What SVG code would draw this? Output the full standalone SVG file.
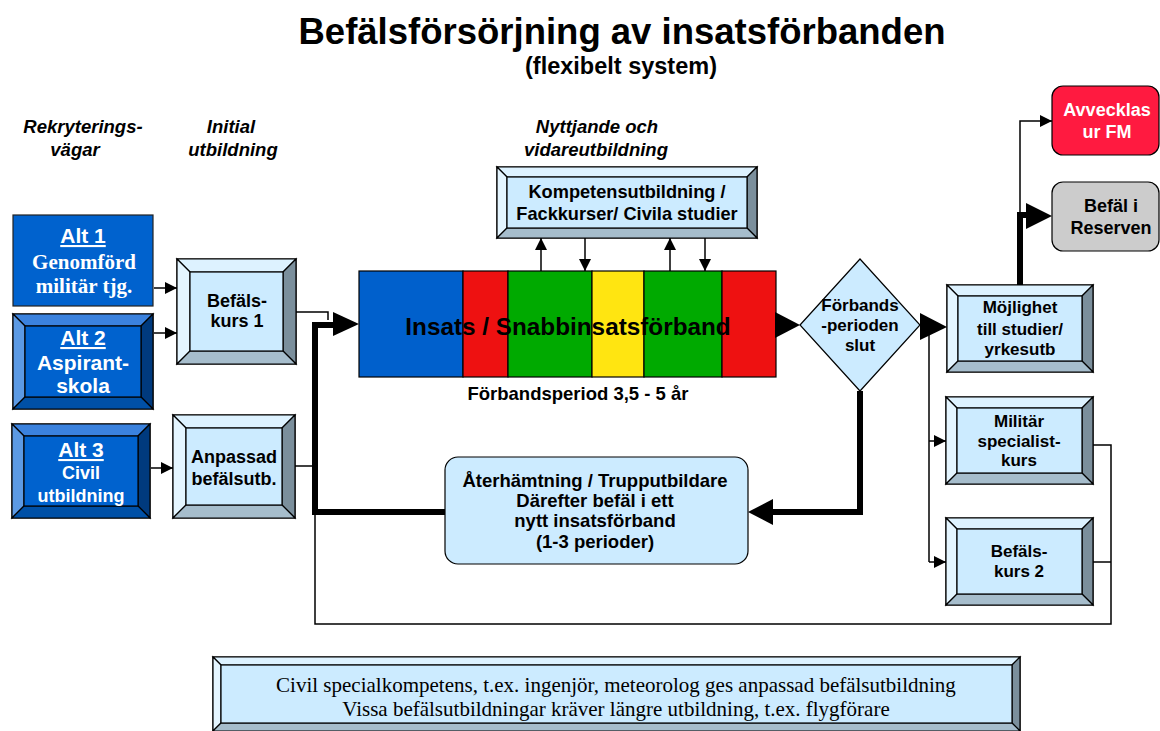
<svg xmlns="http://www.w3.org/2000/svg" width="1160" height="731" viewBox="0 0 1160 731">
<style>
.t{font-family:"Liberation Sans",Arial,sans-serif;font-weight:bold;text-anchor:middle;fill:#000}
.w{fill:#fff}
.hd{font-family:"Liberation Sans",Arial,sans-serif;font-weight:bold;font-style:italic;font-size:18.5px;text-anchor:middle}
.s{stroke:#000;stroke-width:1.2}
.lf{fill:#CCEBFF}.lt{fill:#DDF2FF}.ll{fill:#E4F5FF}.lr{fill:#7B8F9C}.lb{fill:#A6BDCC}
.bf{fill:#0062CE}.bt{fill:#3B82DE}.bl{fill:#5C9AE4}.br{fill:#003A7E}.bb{fill:#0050A6}
.thin{fill:none;stroke:#000;stroke-width:1.5}
.thick{fill:none;stroke:#000;stroke-width:6}
.serif{font-family:"Liberation Serif","Times New Roman",serif}
</style>
<defs>
<marker id="ah" viewBox="0 0 10 10" refX="10" refY="5" markerWidth="12" markerHeight="12" markerUnits="userSpaceOnUse" orient="auto"><path d="M0,0L10,5L0,10z" fill="#000"/></marker>
</defs>

<text class="t" x="622" y="44" font-size="36.5">Befälsförsörjning av insatsförbanden</text>
<text class="t" x="621" y="74" font-size="23.5">(flexibelt system)</text>

<text class="hd" x="83" y="133">Rekryterings-</text>
<text class="hd" x="75" y="156">vägar</text>
<text class="hd" x="231" y="133">Initial</text>
<text class="hd" x="233" y="156">utbildning</text>
<text class="hd" x="597" y="133">Nyttjande och</text>
<text class="hd" x="596" y="156">vidareutbildning</text>

<g id="alt1">
<rect x="13" y="215" width="140" height="91" class="bf" stroke="#222" stroke-width="1.2"/>
<text class="t w" x="83" y="243" font-size="21" text-decoration="underline">Alt 1</text>
<text class="w serif" x="84" y="269" font-size="21" font-weight="bold" text-anchor="middle">Genomförd</text>
<text class="w serif" x="84" y="293" font-size="21" font-weight="bold" text-anchor="middle">militär tjg.</text>
</g>

<g id="alt2">
<rect x="13" y="314" width="140" height="95" class="bf s"/>
<polygon points="13,314 153,314 141,326 25,326" class="bt s"/>
<polygon points="13,314 25,326 25,397 13,409" class="bl s"/>
<polygon points="153,314 153,409 141,397 141,326" class="br s"/>
<polygon points="13,409 25,397 141,397 153,409" class="bb s"/>
<rect x="25" y="326" width="116" height="71" class="bf s"/>
<text class="t w" x="83" y="345" font-size="21" text-decoration="underline">Alt 2</text>
<text class="t w" x="83" y="370" font-size="21">Aspirant-</text>
<text class="t w" x="83" y="393" font-size="21">skola</text>
</g>

<g id="alt3">
<rect x="12" y="424" width="138" height="94" class="bf s"/>
<polygon points="12,424 150,424 138,436 24,436" class="bt s"/>
<polygon points="12,424 24,436 24,506 12,518" class="bl s"/>
<polygon points="150,424 150,518 138,506 138,436" class="br s"/>
<polygon points="12,518 24,506 138,506 150,518" class="bb s"/>
<rect x="24" y="436" width="114" height="70" class="bf s"/>
<text class="t w" x="81" y="457" font-size="21" text-decoration="underline">Alt 3</text>
<text class="t w" x="81" y="479" font-size="18">Civil</text>
<text class="t w" x="81" y="502" font-size="18">utbildning</text>
</g>

<g id="befalskurs1">
<rect x="177" y="259" width="119" height="105" class="lf s"/>
<polygon points="177,259 296,259 283,272 190,272" class="lt s"/>
<polygon points="177,259 190,272 190,351 177,364" class="ll s"/>
<polygon points="296,259 296,364 283,351 283,272" class="lr s"/>
<polygon points="177,364 190,351 283,351 296,364" class="lb s"/>
<rect x="190" y="272" width="93" height="79" class="lf s"/>
<text class="t" x="237" y="307" font-size="18">Befäls-</text>
<text class="t" x="237" y="327" font-size="18">kurs 1</text>
</g>

<g id="anpassad">
<rect x="173" y="415" width="122" height="103" class="lf s"/>
<polygon points="173,415 295,415 282,428 186,428" class="lt s"/>
<polygon points="173,415 186,428 186,505 173,518" class="ll s"/>
<polygon points="295,415 295,518 282,505 282,428" class="lr s"/>
<polygon points="173,518 186,505 282,505 295,518" class="lb s"/>
<rect x="186" y="428" width="96" height="77" class="lf s"/>
<text class="t" x="234" y="463" font-size="18">Anpassad</text>
<text class="t" x="234" y="485" font-size="18">befälsutb.</text>
</g>

<g id="kompetens">
<rect x="497" y="167" width="260" height="71" class="lf s"/>
<polygon points="497,167 757,167 747,177 507,177" class="lt s"/>
<polygon points="497,167 507,177 507,228 497,238" class="ll s"/>
<polygon points="757,167 757,238 747,228 747,177" class="lr s"/>
<polygon points="497,238 507,228 747,228 757,238" class="lb s"/>
<rect x="507" y="177" width="240" height="51" class="lf s"/>
<text class="t" x="627" y="198" font-size="18.2">Kompetensutbildning /</text>
<text class="t" x="627" y="220" font-size="18.2">Fackkurser/ Civila studier</text>
</g>

<g id="insats">
<rect x="359" y="271" width="104" height="106" fill="#0060CC" class="s"/>
<rect x="463" y="271" width="45" height="106" fill="#EE1111" class="s"/>
<rect x="508" y="271" width="84" height="106" fill="#00AA00" class="s"/>
<rect x="592" y="271" width="52" height="106" fill="#FFE511" class="s"/>
<rect x="644" y="271" width="78" height="106" fill="#00AA00" class="s"/>
<rect x="722" y="271" width="54" height="106" fill="#EE1111" class="s"/>
<text class="t" x="568" y="335" font-size="24.3">Insats / Snabbinsatsförband</text>
<text class="t" x="578" y="400" font-size="18.5">Förbandsperiod 3,5 - 5 år</text>
</g>

<g id="diamond">
<polygon points="800,325 860,259 920,325 860,391" class="lf s"/>
<text class="t" x="860" y="311" font-size="17">Förbands</text>
<text class="t" x="860" y="331" font-size="17">-perioden</text>
<text class="t" x="860" y="351" font-size="17">slut</text>
</g>

<g id="mojlighet">
<rect x="947" y="285" width="146" height="87" class="lf s"/>
<polygon points="947,285 1093,285 1082,296 958,296" class="lt s"/>
<polygon points="947,285 958,296 958,361 947,372" class="ll s"/>
<polygon points="1093,285 1093,372 1082,361 1082,296" class="lr s"/>
<polygon points="947,372 958,361 1082,361 1093,372" class="lb s"/>
<rect x="958" y="296" width="124" height="65" class="lf s"/>
<text class="t" x="1020" y="313" font-size="17">Möjlighet</text>
<text class="t" x="1020" y="335" font-size="17">till studier/</text>
<text class="t" x="1020" y="355" font-size="17">yrkesutb</text>
</g>

<g id="militar">
<rect x="946" y="397" width="147" height="87" class="lf s"/>
<polygon points="946,397 1093,397 1082,408 957,408" class="lt s"/>
<polygon points="946,397 957,408 957,473 946,484" class="ll s"/>
<polygon points="1093,397 1093,484 1082,473 1082,408" class="lr s"/>
<polygon points="946,484 957,473 1082,473 1093,484" class="lb s"/>
<rect x="957" y="408" width="125" height="65" class="lf s"/>
<text class="t" x="1019" y="427" font-size="17">Militär</text>
<text class="t" x="1019" y="447" font-size="17">specialist-</text>
<text class="t" x="1019" y="466" font-size="17">kurs</text>
</g>

<g id="befalskurs2">
<rect x="946" y="518" width="147" height="87" class="lf s"/>
<polygon points="946,518 1093,518 1082,529 957,529" class="lt s"/>
<polygon points="946,518 957,529 957,594 946,605" class="ll s"/>
<polygon points="1093,518 1093,605 1082,594 1082,529" class="lr s"/>
<polygon points="946,605 957,594 1082,594 1093,605" class="lb s"/>
<rect x="957" y="529" width="125" height="65" class="lf s"/>
<text class="t" x="1019" y="557" font-size="17">Befäls-</text>
<text class="t" x="1019" y="577" font-size="17">kurs 2</text>
</g>

<g id="avvecklas">
<rect x="1052" y="86" width="107" height="69" rx="11" fill="#FF1A40" class="s"/>
<text class="t w" x="1107" y="116" font-size="18">Avvecklas</text>
<text class="t w" x="1107" y="138" font-size="18">ur FM</text>
</g>

<g id="reserven">
<rect x="1052" y="182" width="107" height="69" rx="11" fill="#CCCCCC" class="s"/>
<text class="t" x="1111" y="212" font-size="18">Befäl i</text>
<text class="t" x="1111" y="234" font-size="18">Reserven</text>
</g>

<g id="aterhamtning">
<rect x="445" y="457" width="303" height="107" rx="13" class="lf s"/>
<text class="t" x="595" y="487" font-size="18.5">Återhämtning / Trupputbildare</text>
<text class="t" x="595" y="507" font-size="18.5">Därefter befäl i ett</text>
<text class="t" x="595" y="527" font-size="18.5">nytt insatsförband</text>
<text class="t" x="595" y="548" font-size="18.5">(1-3 perioder)</text>
</g>

<g id="note">
<rect x="213" y="657" width="807" height="74" class="lf s"/>
<polygon points="213,657 1020,657 1012,665 221,665" class="lt s"/>
<polygon points="213,657 221,665 221,723 213,731" class="ll s"/>
<polygon points="1020,657 1020,731 1012,723 1012,665" class="lr s"/>
<polygon points="213,731 221,723 1012,723 1020,731" class="lb s"/>
<rect x="221" y="665" width="791" height="58" class="lf s"/>
<text class="serif" x="616" y="692" font-size="21" text-anchor="middle">Civil specialkompetens, t.ex. ingenjör, meteorolog ges anpassad befälsutbildning</text>
<text class="serif" x="616" y="716" font-size="21" text-anchor="middle">Vissa befälsutbildningar kräver längre utbildning, t.ex. flygförare</text>
</g>

<g id="connectors">
<line x1="154" y1="288" x2="177" y2="288" class="thin" stroke-width="3" marker-end="url(#ah)"/>
<line x1="154" y1="333" x2="177" y2="333" class="thin" stroke-width="3" marker-end="url(#ah)"/>
<line x1="151" y1="468" x2="173" y2="468" class="thin" stroke-width="3" marker-end="url(#ah)"/>
<polyline points="296,312 328,312 328,320" class="thin"/>
<line x1="295" y1="466" x2="315" y2="466" class="thin"/>
<polyline points="445,512 315,512 315,325 336,325" class="thick"/>
<polygon points="333,312 359,324 333,336" fill="#000"/>
<polyline points="315,512 315,624 1111,624 1111,445 1093,445" class="thin"/>
<line x1="1093" y1="562" x2="1111" y2="562" class="thin"/>
<line x1="541" y1="271" x2="541" y2="238" class="thin" marker-end="url(#ah)"/>
<line x1="585" y1="238" x2="585" y2="271" class="thin" marker-end="url(#ah)"/>
<line x1="670" y1="271" x2="670" y2="238" class="thin" marker-end="url(#ah)"/>
<line x1="705" y1="238" x2="705" y2="271" class="thin" marker-end="url(#ah)"/>
<polygon points="775,312 800,325 775,338" fill="#000"/>
<polygon points="920,313 947,327 920,340" fill="#000"/>
<polyline points="929,335 929,562" class="thin"/>
<line x1="929" y1="441" x2="946" y2="441" class="thin" marker-end="url(#ah)"/>
<line x1="929" y1="562" x2="946" y2="562" class="thin" marker-end="url(#ah)"/>
<polyline points="860,391 860,512 770,512" class="thick"/>
<polygon points="773,499 748,512 773,525" fill="#000"/>
<polyline points="1020,285 1020,215 1028,215" class="thick"/>
<polygon points="1026,203 1052,216 1026,229" fill="#000"/>
<polyline points="1020,213 1020,121 1052,121" class="thin" marker-end="url(#ah)"/>
</g>
</svg>
